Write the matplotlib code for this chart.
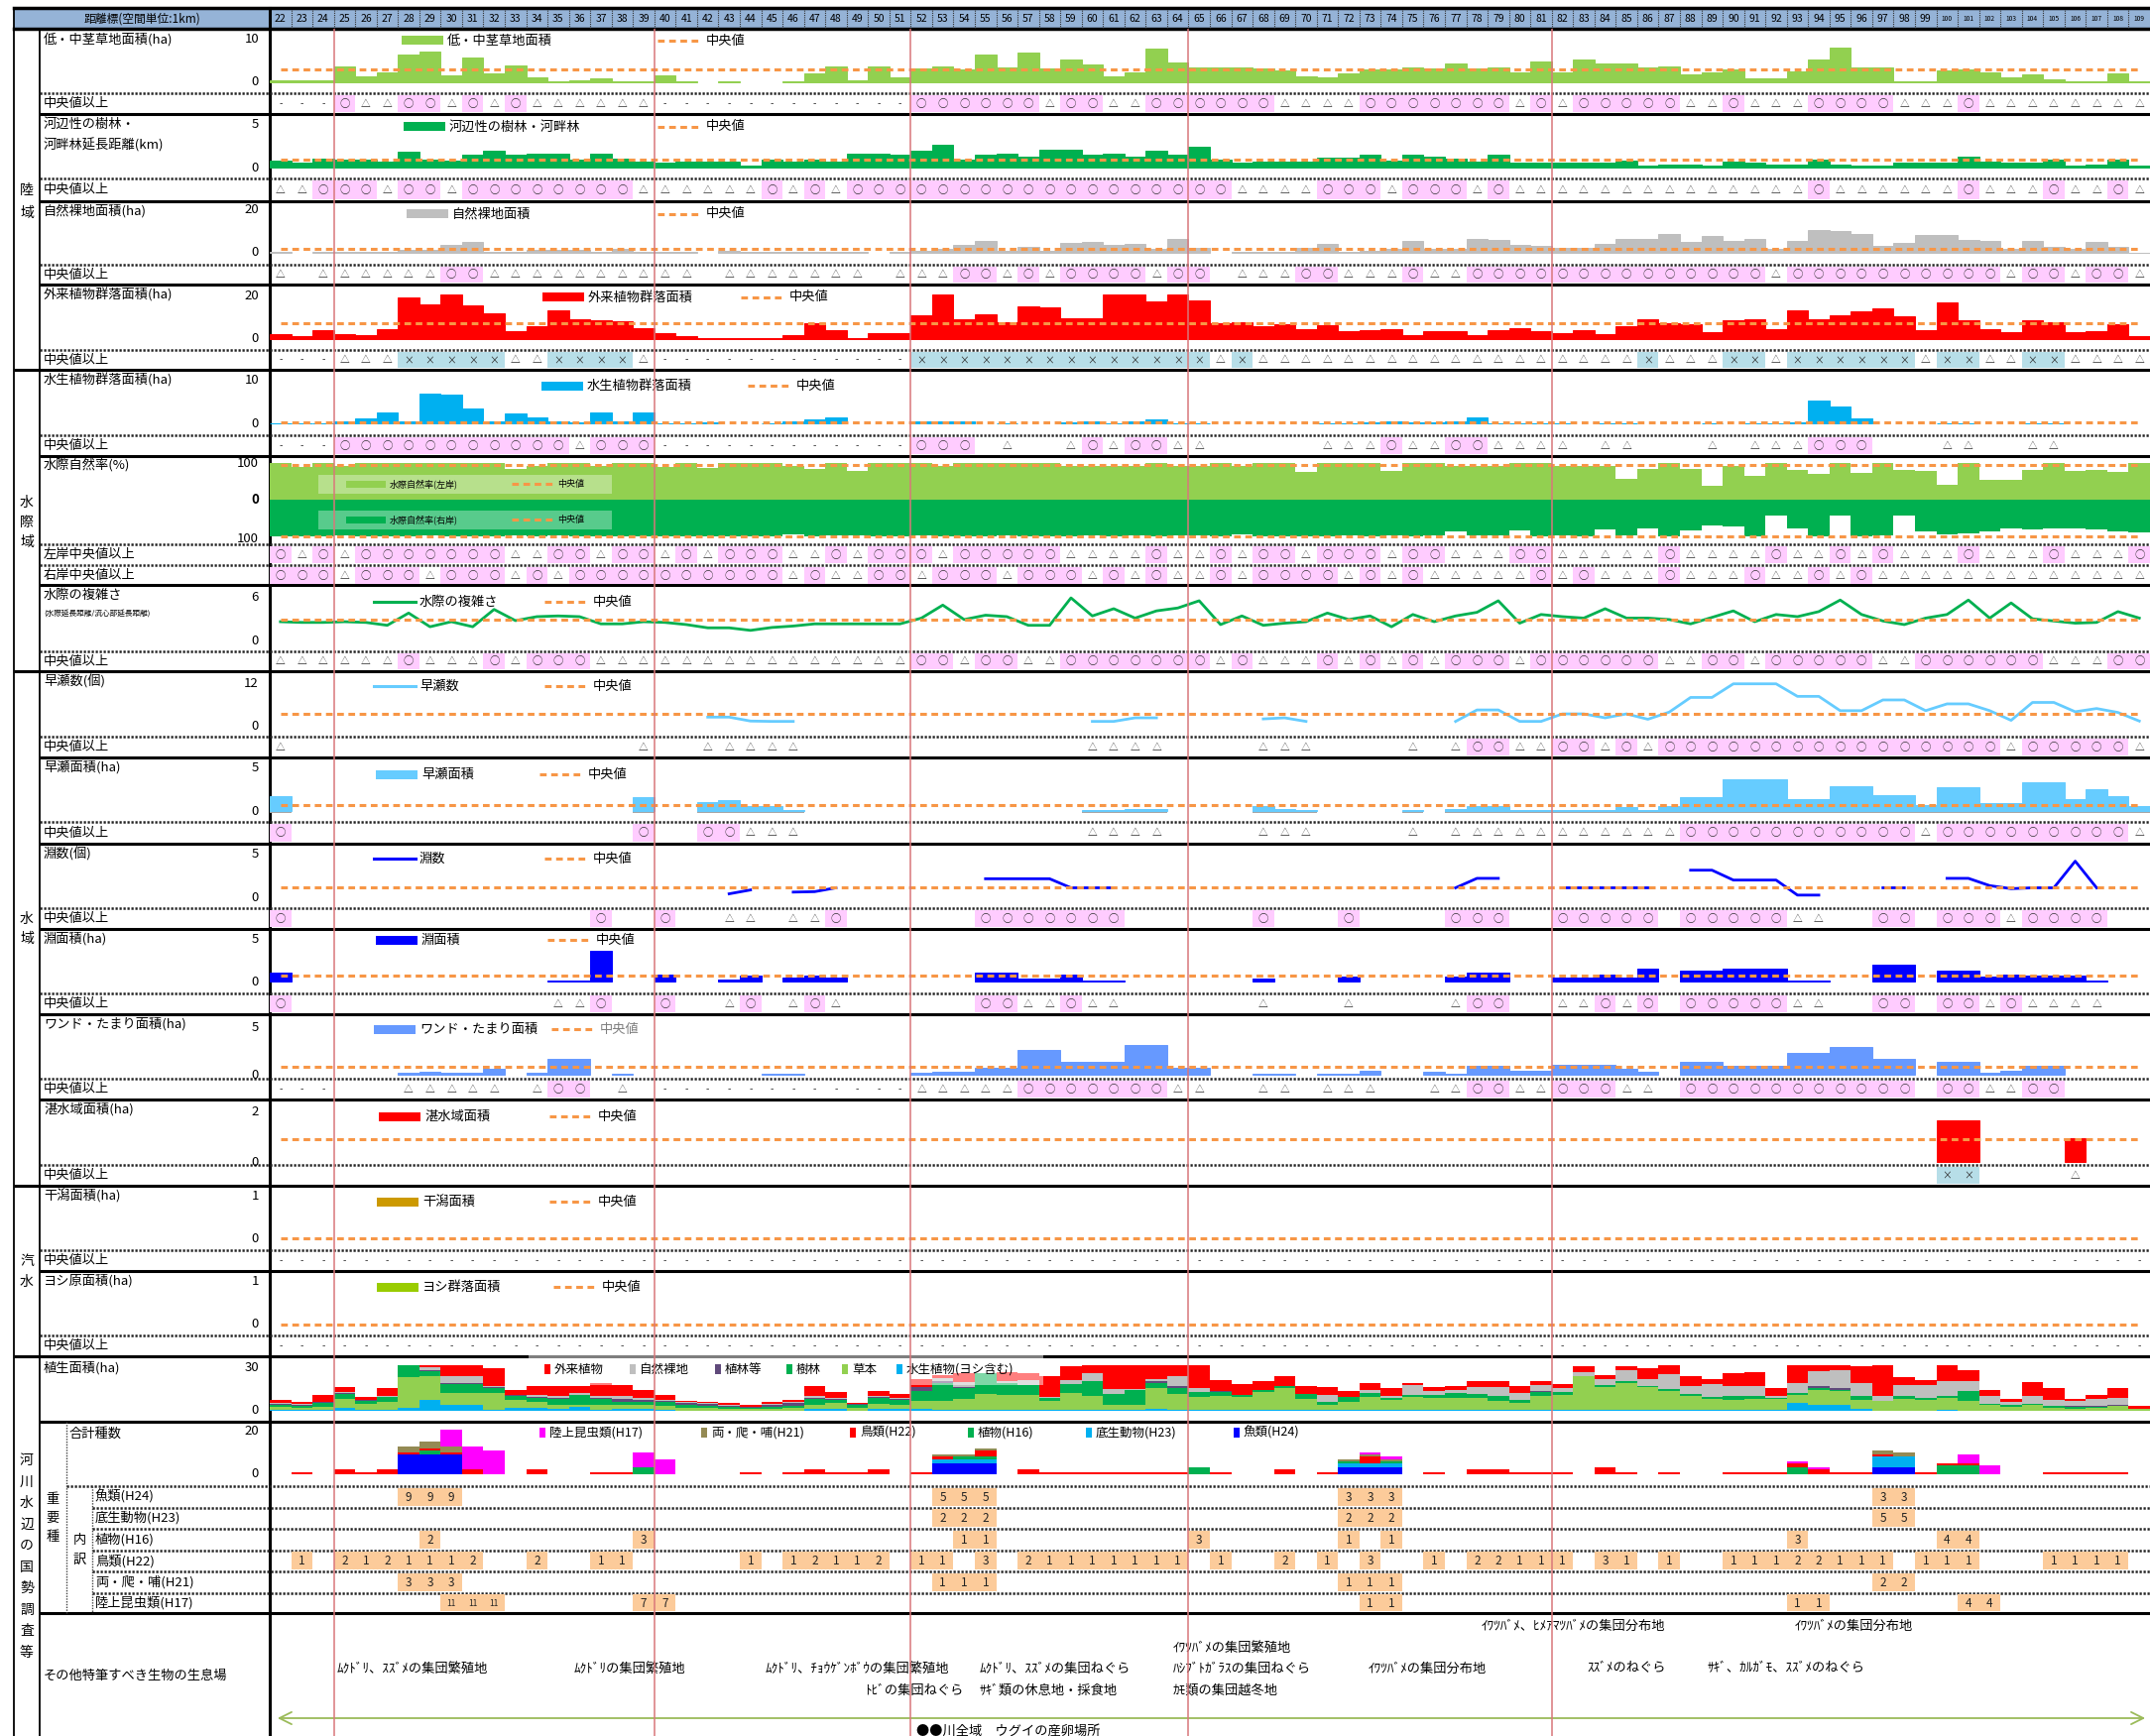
import numpy as np
import matplotlib
matplotlib.use("Agg")
import matplotlib.pyplot as plt
from matplotlib.patches import Rectangle

plt.rcParams['font.family'] = ['Noto Sans CJK JP', 'DejaVu Sans']
plt.rcParams['axes.unicode_minus'] = False
nan = np.nan

# ---------------- data ----------------
km = list(range(22, 110))

grass = [0.5, 0.5, 0.3, 3.7, 1.4, 2.3, 6.4, 7.2, 1.5, 5.7,
         2.0, 3.9, 1.1, 0.2, 0.5, 0.8, 0.2, 0.2, 1.6, 0.15,
         nan, 0.15, nan, nan, 0.15, 2.0, 3.7, 0.5, 3.7, 1.2,
         3.1, 3.7, 3.0, 6.4, 3.5, 6.9, 3.2, 5.2, 4.0, 1.4,
         2.3, 7.8, 4.6, 3.4, 3.4, 3.4, 3.1, 2.7, 1.4, 1.2,
         2.0, 3.0, 3.0, 3.4, 3.1, 4.3, 3.1, 3.4, 2.3, 4.8,
         2.3, 5.2, 4.3, 4.3, 3.4, 3.7, 1.7, 2.3, 3.0, 0.8,
         0.8, 2.5, 5.2, 8.1, 3.4, 3.4, 0.15, 0.15, 2.7, 3.0,
         2.3, 1.1, 1.7, 0.6, 0.2, 0.2, 2.0, 0.2]
riparian = [0.85, 0.6, 1.1, 0.9, 1.0, 0.7, 1.85, 0.9, 0.85, 1.5,
            2.0, 1.5, 1.7, 1.6, 0.9, 1.6, 1.1, 0.7, 0.6, 0.7,
            0.7, 0.7, 0.3, 1.0, 0.7, 0.9, 0.7, 1.6, 1.6, 1.5,
            2.0, 2.7, 0.9, 1.5, 1.6, 1.3, 2.15, 2.15, 1.5, 1.7,
            1.3, 2.0, 1.5, 2.5, 1.0, 0.6, 0.7, 0.7, 0.7, 1.15,
            1.15, 1.5, 0.8, 1.5, 1.35, 1.1, 0.7, 1.5, 0.6, 0.6,
            0.6, 0.6, 0.6, 0.8, 0.3, 0.4, 0.4, 0.3, 0.7, 0.6,
            0.4, 0.4, 1.0, 0.4, 0.3, 0.3, 0.6, 0.6, 0.6, 1.3,
            0.7, 0.6, 0.6, 1.0, 0.3, 0.4, 1.0, 0.3]
bare = [0.5, nan, 0.5, 0.5, 0.5, 0.5, 1.5, 1.2, 3.5, 4.9,
        0.5, 0.5, 1.2, 1.5, 1.5, 0.5, 1.8, 0.5, 0.5, 0.5,
        nan, 1.0, 0.3, 0.3, 0.3, 0.3, 0.3, 0.3, nan, 0.4,
        1.0, 1.9, 3.5, 5.4, 1.0, 2.6, 1.0, 4.6, 4.9, 3.8,
        4.3, 1.8, 6.6, 2.2, nan, 0.5, 0.5, 0.5, 2.3, 4.3,
        0.5, 1.1, 1.8, 5.4, 1.8, 1.8, 6.6, 5.8, 3.5, 3.1,
        2.3, 2.3, 4.3, 6.6, 6.6, 8.9, 5.1, 7.7, 5.7, 6.6,
        1.8, 5.7, 10.8, 10.3, 8.9, 3.1, 4.6, 8.5, 8.5, 6.2,
        5.4, 1.8, 5.7, 2.6, 1.8, 4.9, 2.8, 0.1]
alien = [2.3, 1.1, 3.8, 2.3, 1.7, 4.5, 19.2, 16.2, 20.5, 15.7,
         12.0, 3.4, 5.7, 13.1, 9.2, 8.5, 8.0, 4.9, 2.8, 1.1,
         0.5, 0.5, 0.5, 0.5, 1.7, 7.4, 3.8, 0.5, 2.8, 2.8,
         10.9, 20.5, 9.2, 11.5, 7.8, 15.1, 14.6, 9.5, 9.7, 20.5,
         20.5, 17.4, 20.5, 17.8, 7.2, 7.6, 5.7, 6.9, 4.5, 6.2,
         3.4, 3.8, 4.5, 1.5, 3.4, 3.4, 1.7, 3.8, 5.1, 3.4,
         2.6, 3.8, 2.3, 5.7, 9.2, 7.2, 6.9, 2.9, 8.5, 9.1,
         4.5, 13.1, 9.2, 10.8, 12.6, 14.3, 10.3, 3.8, 16.8, 8.5,
         4.5, 2.9, 8.5, 7.7, 2.9, 3.4, 6.9, 1.1]
aquatic = [0.1, 0.1, 0.1, 0.5, 1.15, 2.7, 0.5, 7.1, 6.8, 3.5,
           0.6, 2.3, 1.5, 0.6, 0.3, 2.7, 0.45, 2.7, 0.1, 0.1,
           0.4, nan, nan, 0.1, 0.5, 0.9, 1.4, nan, nan, nan,
           0.6, 0.6, 0.6, nan, 0.05, nan, nan, 0.3, 0.6, 0.05,
           0.55, 0.9, 0.15, 0.15, nan, nan, nan, nan, nan, 0.1,
           0.1, 0.3, 0.6, 0.2, 0.2, 0.6, 1.5, 0.1, 0.1, 0.1,
           0.1, nan, 0.1, 0.1, nan, nan, nan, 0.1, nan, 0.1,
           0.1, 0.3, 5.3, 3.9, 1.3, nan, nan, nan, 0.1, 0.1,
           nan, nan, 0.1, 0.1, nan, nan, nan, nan]
shore_left = [100, 90, 100, 93, 100, 100, 100, 100, 100, 100,
              100, 84, 93, 100, 100, 93, 100, 100, 91, 100,
              86, 100, 100, 100, 93, 84, 100, 79, 100, 100,
              100, 93, 100, 100, 100, 100, 100, 93, 93, 93,
              93, 100, 93, 93, 100, 93, 100, 100, 76, 100,
              100, 100, 78, 100, 100, 93, 93, 93, 100, 100,
              93, 93, 93, 58, 85, 100, 85, 38, 93, 65,
              100, 83, 72, 100, 74, 100, 83, 78, 41, 100,
              54, 56, 81, 100, 78, 83, 76, 100]
shore_right = [100, 100, 100, 97, 100, 100, 100, 97, 100, 100,
               100, 97, 100, 97, 100, 100, 100, 100, 100, 100,
               100, 100, 100, 100, 95, 100, 97, 97, 100, 100,
               97, 100, 100, 100, 97, 100, 100, 100, 97, 100,
               97, 100, 97, 97, 100, 93, 100, 100, 100, 100,
               97, 100, 97, 100, 97, 86, 97, 97, 84, 100,
               97, 100, 79, 97, 77, 100, 84, 70, 73, 100,
               43, 77, 100, 43, 100, 97, 43, 86, 95, 91,
               86, 77, 79, 77, 77, 81, 86, 88]
complexity = [2.6, 2.5, 2.5, 2.6, 2.5, 2.1, 3.8, 1.9, 2.6, 1.9,
              4.3, 2.75, 3.3, 3.4, 3.3, 2.3, 2.3, 2.6, 2.5, 2.2,
              1.75, 1.75, 1.4, 1.8, 2.0, 2.3, 2.3, 2.3, 2.3, 2.3,
              3.1, 4.9, 2.9, 3.5, 3.3, 2.1, 2.1, 5.9, 3.4, 4.4,
              3.1, 4.1, 4.5, 5.5, 2.2, 3.4, 2.1, 2.4, 2.6, 3.8,
              2.9, 3.4, 1.9, 3.6, 2.6, 3.4, 3.9, 5.5, 2.4, 3.6,
              3.3, 3.1, 4.4, 3.1, 3.1, 2.9, 2.3, 3.2, 4.1, 2.6,
              3.6, 3.3, 4.0, 5.6, 3.6, 2.7, 2.2, 3.1, 3.6, 5.6,
              3.1, 5.2, 3.0, 2.7, 2.4, 2.5, 4.0, 3.1]
rapids_n = [2.0, nan, nan, nan, nan, nan, nan, nan, nan, nan,
            nan, nan, nan, nan, nan, nan, nan, 2.0, nan, nan,
            2.6, 2.6, 1.5, 1.4, 1.4, nan, nan, nan, nan, nan,
            nan, nan, nan, nan, nan, nan, nan, nan, 1.4, 1.4,
            2.4, 2.4, nan, nan, nan, nan, 2.1, 2.4, 1.4, nan,
            nan, nan, nan, 2.0, nan, 1.4, 4.6, 4.6, 1.4, 1.4,
            3.5, 3.5, 2.4, 3.5, 2.0, 4.0, 8.1, 8.1, 11.9, 11.9,
            11.9, 8.4, 8.4, 4.4, 4.4, 7.4, 7.4, 4.4, 6.3, 6.3,
            4.4, 1.7, 6.7, 6.7, 4.1, 5.0, 3.9, 1.5]
rapids_a = [1.8, nan, nan, nan, nan, nan, nan, nan, nan, nan,
            nan, nan, nan, nan, nan, nan, nan, 1.65, nan, nan,
            1.1, 1.35, 0.65, 0.65, 0.2, nan, nan, nan, nan, nan,
            nan, nan, nan, nan, nan, nan, nan, nan, 0.15, 0.15,
            0.3, 0.3, nan, nan, nan, nan, 0.6, 0.3, 0.15, nan,
            nan, nan, nan, 0.15, nan, 0.3, 0.6, 0.6, 0.2, 0.2,
            0.2, 0.2, 0.2, 0.5, 0.2, 0.65, 1.6, 1.6, 3.7, 3.7,
            3.7, 1.45, 1.45, 2.9, 2.9, 1.9, 1.9, 0.7, 2.8, 2.8,
            1.0, 1.0, 3.4, 3.4, 1.45, 2.6, 1.75, 0.6]
pools_n = [1.5, nan, nan, nan, nan, nan, nan, nan, nan, nan,
           nan, nan, nan, nan, nan, 1.5, nan, nan, 1.5, nan,
           nan, 0.4, 0.85, nan, 0.6, 0.65, 1.1, nan, nan, nan,
           nan, nan, nan, 2.15, 2.15, 2.15, 2.15, 1.1, 1.1, 1.1,
           nan, nan, nan, nan, nan, nan, 1.5, nan, nan, nan,
           1.5, nan, nan, nan, nan, 1.1, 2.2, 2.2, nan, nan,
           1.1, 1.1, 1.1, 1.1, 1.1, nan, 3.15, 3.15, 2.0, 2.0,
           2.0, 0.25, 0.25, nan, nan, 1.1, 1.1, nan, 2.2, 2.2,
           1.35, 1.0, 1.1, 1.1, 4.2, 1.1, nan, nan]
pools_a = [1.0, nan, nan, nan, nan, nan, nan, nan, nan, nan,
           nan, nan, nan, 0.1, 0.1, 3.6, nan, nan, 0.8, nan,
           nan, 0.2, 0.75, nan, 0.45, 0.75, 0.5, nan, nan, nan,
           nan, nan, nan, 1.1, 1.1, 0.4, 0.4, 0.8, 0.1, 0.1,
           nan, nan, nan, nan, nan, nan, 0.3, nan, nan, nan,
           0.6, nan, nan, nan, nan, 0.6, 1.1, 1.1, nan, nan,
           0.5, 0.5, 0.8, 0.5, 1.55, nan, 1.25, 1.25, 1.55, 1.55,
           1.55, 0.1, 0.1, nan, nan, 2.0, 2.0, nan, 1.25, 1.25,
           0.6, 0.8, 0.65, 0.65, 0.65, 0.1, nan, nan]
wando = [nan, nan, nan, nan, nan, nan, 0.2, 0.35, 0.2, 0.2,
         0.65, nan, 0.2, 1.7, 1.7, nan, 0.1, nan, nan, nan,
         nan, nan, nan, 0.1, 0.1, nan, nan, nan, nan, nan,
         0.25, 0.4, 0.4, 0.75, 0.75, 2.65, 2.65, 1.4, 1.4, 1.4,
         3.2, 3.2, 0.8, 0.8, nan, nan, 0.15, 0.15, nan, 0.15,
         0.15, 0.5, nan, nan, 0.35, 0.15, 1.0, 1.0, 0.5, 0.5,
         1.1, 1.1, 1.1, 0.65, 0.35, nan, 1.4, 1.4, 1.0, 1.0,
         1.0, 2.35, 2.35, 2.95, 2.95, 1.7, 1.7, nan, 1.4, 1.4,
         0.25, 0.5, 1.0, 1.0, nan, nan, nan, nan]
flooded = [nan] * 78 + [1.68, 1.68, nan, nan, nan, nan, 0.95, nan, nan, nan]
tidal = [nan] * 88
reed = [nan] * 88

medians = {'grass': 2.85, 'riparian': 0.9, 'bare': 2.0, 'alien': 7.4, 'aquatic': 0.4,
           'shore_left': 95, 'shore_right': 99, 'complexity': 2.95, 'rapids_n': 3.4,
           'rapids_a': 0.75, 'pools_n': 1.1, 'pools_a': 0.7, 'wando': 0.9,
           'flooded': 0.93, 'tidal': 0.0, 'reed': 0.0}

# vegetation area stack (bottom -> top)
veg_aquatic = [0.3, 0.3, 0.5, 1.8, 0.4, 0.7, 1.8, 7.6, 4.2, 3.7,
               0.2, 1.8, 1.8, 0.9, 2.3, 0.5, 0.9, 1.4, 0.5, 0,
               0, 0, 0, 0, 0, 0.9, 0.9, 0, 0.9, 0.9,
               0.9, 0.5, 0.5, 0.5, 0.5, 0.5, 0.5, 0.5, 0.3, 0.2,
               0.2, 0.9, 0.2, 0.5, 0.2, 0.2, 0.2, 0.2, 0.2, 0.2,
               0.5, 0.3, 0.3, 0.2, 0.2, 0.2, 0.5, 0.2, 0.2, 0.2,
               0.2, 0.2, 0.2, 0.2, 0.2, 0.2, 0.2, 0.2, 0.2, 0.2,
               0.2, 5.3, 4.2, 3.7, 1.4, 0, 0, 0, 0.3, 0,
               0, 0, 0, 0, 0, 0, 0, 0]
veg_herb = [2.0, 1.6, 2.3, 6.5, 4.2, 5.3, 21.5, 16.2, 8.1, 8.5,
            11.8, 5.8, 4.2, 3.2, 1.8, 3.2, 2.8, 2.3, 2.8, 1.8,
            1.8, 1.4, 0.9, 1.4, 1.8, 3.2, 4.2, 1.8, 3.7, 3.2,
            5.8, 6.2, 7.4, 10.9, 10.2, 10.2, 6.2, 12.0, 9.7, 3.9,
            3.9, 15.0, 11.5, 9.2, 9.7, 9.0, 12.7, 15.5, 8.0, 3.5,
            5.8, 9.5, 7.2, 9.2, 8.5, 8.5, 8.1, 6.7, 5.1, 9.7,
            10.9, 23.6, 16.3, 18.7, 16.0, 13.4, 9.9, 7.6, 6.9, 7.6,
            7.6, 5.8, 10.4, 9.7, 6.2, 6.5, 8.3, 7.6, 8.3, 6.9,
            4.2, 2.3, 3.7, 1.8, 1.4, 1.8, 3.0, 1.2]
veg_forest = [1.5, 1.6, 2.3, 3.2, 1.8, 3.2, 8.1, 3.5, 6.5, 6.2,
              3.7, 2.5, 3.0, 3.7, 6.5, 4.2, 2.3, 2.3, 2.8, 2.3,
              1.8, 1.4, 0.9, 1.4, 1.8, 3.7, 2.3, 2.3, 4.2, 3.2,
              6.9, 12.2, 7.6, 15.0, 8.3, 7.2, 1.8, 5.8, 10.4, 7.4,
              10.4, 3.0, 3.9, 3.0, 2.8, 1.8, 1.6, 1.2, 3.5, 2.1,
              3.2, 2.8, 1.2, 1.6, 2.3, 3.5, 3.0, 3.0, 2.3, 3.0,
              1.8, 0.5, 1.2, 1.6, 1.0, 1.2, 1.2, 1.6, 3.0, 2.3,
              1.2, 1.2, 1.2, 1.2, 2.3, 0.5, 1.6, 1.2, 1.6, 6.9,
              0.5, 1.8, 0.9, 1.2, 0.9, 0.9, 0.5, 0]
veg_plant = [0.8, 0.6, 0.8, 0.5, 0.7, 0.3, 0, 0.7, 0.3, 0.7,
             0.5, 0.5, 0.7, 0.9, 0.5, 0.9, 2.1, 1.6, 0.9, 0.9,
             0.9, 0.7, 0.5, 0.9, 1.6, 0.9, 0.7, 0.3, 0.7, 0.9,
             2.8, 1.6, 1.2, 0, 0.5, 0, 0.5, 0, 0, 0,
             0, 1.6, 1.8, 0.5, 1.2, 0, 0, 0, 0, 0,
             0, 0, 0, 0, 0, 0, 0, 0, 0, 0.9,
             0, 0, 0, 0, 0, 0, 0, 0, 0, 0,
             0, 0, 1.2, 1.2, 0, 0, 0, 0, 0, 0,
             0, 0, 0, 0.5, 0.7, 0.5, 0.5, 0]
veg_bare = [0.5, 0.3, 0.3, 0.9, 0.5, 0.7, 0, 2.1, 4.6, 5.1,
            0.7, 0.5, 1.4, 1.2, 1.2, 1.2, 1.8, 1.2, 0.7, 0.9,
            0.7, 0.7, 0.5, 0.9, 0.7, 1.2, 0.7, 0.3, 0.9, 0.5,
            0, 1.8, 3.5, 0, 1.2, 3.2, 0.5, 2.8, 5.8, 3.7,
            0.5, 1.2, 6.7, 2.8, 0, 0, 0, 0, 0, 5.3,
            0, 1.8, 1.2, 6.5, 2.3, 2.3, 5.1, 6.2, 4.6, 3.7,
            2.8, 2.3, 4.2, 7.6, 4.5, 10.4, 5.8, 8.8, 6.9, 6.9,
            1.2, 6.9, 10.4, 12.7, 9.2, 3.0, 8.1, 9.2, 10.4, 6.5,
            5.3, 1.8, 5.3, 3.9, 3.5, 4.6, 4.6, 0]
veg_alien = [2.5, 1.8, 5.0, 3.2, 1.6, 5.3, 0, 1.4, 8.1, 7.2,
             12.7, 3.5, 5.8, 6.9, 4.6, 9.2, 7.6, 5.8, 3.5, 0.9,
             0.7, 0.9, 0.9, 1.4, 1.6, 6.9, 3.9, 0.5, 3.5, 2.8,
             5.3, 2.3, 6.2, 0, 5.8, 5.3, 14.5, 9.9, 5.8, 16.6,
             17.3, 10.4, 7.6, 15.7, 7.6, 7.4, 5.8, 7.4, 5.5, 5.1,
             4.2, 4.6, 5.8, 1.6, 2.8, 2.8, 3.9, 4.6, 5.1, 3.2,
             2.8, 4.2, 2.8, 3.0, 8.0, 6.5, 6.9, 3.5, 9.2, 9.9,
             5.8, 12.2, 4.2, 3.0, 12.2, 21.5, 5.3, 3.5, 11.1, 8.1,
             4.6, 2.3, 9.9, 8.3, 1.8, 3.0, 6.9, 1.8]

# important species by survey (km -> count)
sp_fish = {28: 9, 29: 9, 30: 9, 53: 5, 54: 5, 55: 5, 72: 3, 73: 3, 74: 3, 97: 3, 98: 3}
sp_benthos = {53: 2, 54: 2, 55: 2, 72: 2, 73: 2, 74: 2, 97: 5, 98: 5}
sp_plants = {29: 2, 39: 3, 54: 1, 55: 1, 65: 3, 72: 1, 74: 1, 93: 3, 100: 4, 101: 4}
sp_birds = {23: 1, 25: 2, 26: 1, 27: 2, 28: 1, 29: 1, 30: 1, 31: 2, 34: 2, 37: 1, 38: 1,
            44: 1, 46: 1, 47: 2, 48: 1, 49: 1, 50: 2, 52: 1, 53: 1, 55: 3, 57: 2, 58: 1,
            59: 1, 60: 1, 61: 1, 62: 1, 63: 1, 64: 1, 66: 1, 69: 2, 71: 1, 73: 3, 76: 1,
            78: 2, 79: 2, 80: 1, 81: 1, 82: 1, 84: 3, 85: 1, 87: 1, 90: 1, 91: 1, 92: 1,
            93: 2, 94: 2, 95: 1, 96: 1, 97: 1, 99: 1, 100: 1, 101: 1, 105: 1, 106: 1,
            107: 1, 108: 1}
sp_amph = {28: 3, 29: 3, 30: 3, 53: 1, 54: 1, 55: 1, 72: 1, 73: 1, 74: 1, 97: 2, 98: 2}
sp_insect = {30: 11, 31: 11, 32: 11, 39: 7, 40: 7, 73: 1, 74: 1, 93: 1, 94: 1, 101: 4, 102: 4}

# "above median" flags: o=○, t=△, x=×, -=-, blank=no data
m_grass = ('---' + 'ottootototttttt' + '-' * 12 + 'oooooot' + 'oottoo' + 'oooo' + 'tttt' +
           'ooooooo' + 'tot' + 'ooooo' + 'tt' + 'o' + 'ttt' + 'oooo' + 'ttt' + 'o' + 't' * 8)
m_riparian = ('tt' + 'ooo' + 't' + 'oo' + 't' + 'o' * 8 + 't' * 6 + 'o' + 't' + 'o' + 't' + 'o' * 18 +
              'tttt' + 'ooo' + 't' + 'ooo' + 't' + 'o' + 't' * 14 + 'o' + 't' * 6 + 'o' + 'ttt' +
              'o' + 'tt' + 'o' + 't')
m_bare = ('t' + ' ' + 't' * 6 + 'oo' + 't' * 10 + ' ' + 't' * 7 + ' ' + 'ttt' + 'oo' + 't' + 'o' +
          't' + 'oooo' + 't' + 'oo' + ' ' + 'ttt' + 'oo' + 'ttt' + 'o' + 'tt' + 'o' * 14 + 't' +
          'o' * 10 + 't' + 'oo' + 't' + 'oo' + 't')
m_alien = ('---' + 'ttt' + 'xxxxx' + 'tt' + 'xxxx' + 't' + '-' * 12 + 'x' * 14 + 't' + 'x' +
           't' * 18 + 'x' + 'ttt' + 'xx' + 't' + 'x' * 6 + 't' + 'xx' + 'tt' + 'xx' + 'tttt')
m_aquatic = ('---' + 'o' * 11 + 't' + 'ooo' + '-' * 12 + 'ooo' + ' ' + 't' + '  ' + 't' + 'o' +
             't' + 'oo' + 'tt' + ' ' * 5 + 'ttt' + 'o' + 'tt' + 'oo' + 'tttt' + ' ' + 'tt' +
             '   ' + 't' + ' ' + 'ttt' + 'ooo' + '   ' + 'tt' + '  ' + 'tt' + '    ')
m_left = ('otot' + 'o' * 7 + 'tt' + 'oo' + 't' + 'oo' + 't' + 'o' + 't' + 'ooo' + 'tt' + 'o' + 't' +
          'ooo' + 't' + 'o' * 5 + 't' + 'ttt' + 'o' + 'tt' + 'o' + 't' + 'oo' + 't' + 'ooo' + 't' +
          'oo' + 'ttt' + 'oo' + 't' * 5 + 'o' + 'tttt' + 'o' + 'tt' + 'o' + 't' + 'o' + 'ttt' +
          'o' + 'ttt' + 'o' + 'ttt' + 'o')
m_right = ('ooo' + 't' + 'ooo' + 't' + 'ooo' + 't' + 'o' + 't' + 'o' * 10 + 't' + 'o' + 'tt' +
           'oo' + 't' + 'ooo' + 't' + 'ooo' + 't' + 'o' + 't' + 'o' + 'tt' + 'o' + 't' + 'oooo' +
           't' + 'o' + 't' + 'o' + 't' * 5 + 'o' + 't' + 'o' + 'ttt' + 'o' + 'ttt' + 'o' + 'tt' +
           'o' + 't' + 'o' + 't' * 13)
m_complex = ('t' * 6 + 'o' + 'ttt' + 'o' + 't' + 'ooo' + 'ttt' + 't' * 12 + 'oo' + 't' + 'oo' +
             'tt' + 'o' + 'o' * 6 + 't' + 'o' + 'ttt' + 'o' + 't' + 'o' + 't' + 'o' + 't' + 'ooo' +
             't' + 'o' * 6 + 'tt' + 'oo' + 't' + 'o' * 5 + 'tt' + 'o' * 6 + 'ttt' + 'oo')
m_rapids_n = ('t' + ' ' * 16 + 't' + '  ' + 'ttttt' + ' ' * 13 + 'tttt' + ' ' * 4 + 'ttt' +
              ' ' * 4 + 't' + ' ' + 't' + 'oo' + 'tt' + 'oo' + 't' + 'o' + 't' + 'o' +
              'o' * 15 + 't' + 'o' * 5 + 't')
m_rapids_a = ('o' + ' ' * 16 + 'o' + '  ' + 'oo' + 'ttt' + ' ' * 13 + 'tttt' + ' ' * 4 + 'ttt' +
              ' ' * 4 + 't' + ' ' + 't' * 11 + 'o' * 11 + 't' + 'o' * 9 + 't')
m_pools_n = ('o' + ' ' * 14 + 'o' + '  ' + 'o' + '  ' + 'tt' + ' ' + 'tt' + 'o' + ' ' * 6 +
             'o' * 7 + ' ' * 6 + 'o' + '   ' + 'o' + ' ' * 4 + 'ooo' + '  ' + 'ooooo' + ' ' +
             'ooooo' + 'tt' + '  ' + 'oo' + ' ' + 'ooo' + 't' + 'oooo' + '  ')
m_pools_a = ('o' + ' ' * 12 + 'tt' + 'o' + '  ' + 'o' + '  ' + 't' + 'o' + ' ' + 't' + 'o' + 't' +
             ' ' * 6 + 'oo' + 'tt' + 'o' + 'tt' + ' ' * 6 + 't' + '   ' + 't' + ' ' * 4 + 't' +
             'oo' + '  ' + 'tt' + 'o' + 't' + 'o' + ' ' + 'o' * 5 + 'tt' + '  ' + 'oo' + ' ' +
             'oo' + 't' + 'o' + 'tttt' + '  ')
m_wando = ('---' + '   ' + 'ttttt' + ' ' + 't' + 'oo' + ' ' + 't' + ' ' + '-' * 12 + 'ttttt' +
           'o' * 7 + 'tt' + '  ' + 'tt' + ' ' + 'ttt' + '  ' + 'tt' + 'oo' + 'tt' + 'ooo' + 'tt' +
           ' ' + 'o' * 11 + ' ' + 'oo' + 'tt' + 'oo' + '    ')
m_flooded = ' ' * 78 + 'xx' + '    ' + 't' + '   '
m_tidal = '-' * 88
m_reed = '-' * 88

habitat_notes = [
    ("ﾑｸﾄﾞﾘ、ｽｽﾞﾒの集団繁殖地", 340, 1683),
    ("ﾑｸﾄﾞﾘの集団繁殖地", 579, 1683),
    ("ﾑｸﾄﾞﾘ、ﾁｮｳｹﾞﾝﾎﾞｳの集団繁殖地", 772, 1683),
    ("ﾑｸﾄﾞﾘ、ｽｽﾞﾒの集団ねぐら", 988, 1683),
    ("ﾄﾋﾞの集団ねぐら", 872, 1705),
    ("ｻｷﾞ類の休息地・採食地", 988, 1705),
    ("ｲﾜﾂﾊﾞﾒの集団繁殖地", 1183, 1662),
    ("ﾊｼﾌﾞﾄｶﾞﾗｽの集団ねぐら", 1183, 1683),
    ("ｶﾓ類の集団越冬地", 1183, 1705),
    ("ｲﾜﾂﾊﾞﾒの集団分布地", 1380, 1683),
    ("ｲﾜﾂﾊﾞﾒ、ﾋﾒｱﾏﾂﾊﾞﾒの集団分布地", 1494, 1640),
    ("ｲﾜﾂﾊﾞﾒの集団分布地", 1810, 1640),
    ("ｽｽﾞﾒのねぐら", 1600, 1683),
    ("ｻｷﾞ、ｶﾙｶﾞﾓ、ｽｽﾞﾒのねぐら", 1722, 1683),
]

for arr in [grass, riparian, bare, alien, aquatic, shore_left, shore_right, complexity,
            rapids_n, rapids_a, pools_n, pools_a, wando, flooded, veg_aquatic, veg_herb,
            veg_forest, veg_plant, veg_bare, veg_alien]:
    assert len(arr) == 88, len(arr)
for s in [m_grass, m_riparian, m_bare, m_alien, m_aquatic, m_left, m_right, m_complex,
          m_rapids_n, m_rapids_a, m_pools_n, m_pools_a, m_wando, m_flooded]:
    assert len(s) == 88, len(s)

# ---------------- layout ----------------
W, H = 2168, 1751
fig = plt.figure(figsize=(W / 100, H / 100), dpi=100)
bg = fig.add_axes([0, 0, 1, 1])
bg.set_xlim(0, W); bg.set_ylim(H, 0); bg.axis('off')

N = len(km)
xi = np.arange(N)
XL, XR = 272, W
ORANGE = '#F79646'
MED_LS = (0, (2.2, 1.5))
PINK, LBLUE, PEACH = '#FFCCFF', '#B7DEE8', '#FCCB9A'


def frame_ax(ytop, ybot):
    ax = fig.add_axes([XL / W, 1 - ybot / H, (XR - XL) / W, (ybot - ytop) / H])
    ax.set_xlim(-0.5, N - 0.5)
    ax.axis('off')
    return ax


def chart(ytop, ybot, base, sc):
    ax = frame_ax(ytop, ybot)
    ax.set_ylim((base - ybot) / sc, (base - ytop) / sc)
    return ax


def median(ax, m):
    ax.plot(xi, np.full(N, m), color=ORANGE, lw=2.2, ls=MED_LS, zorder=6)


def bars(ax, vals, color):
    v = np.asarray(vals, float)
    m = ~np.isnan(v)
    ax.bar(xi[m], v[m], width=1.0, color=color, edgecolor=color, linewidth=0.7, zorder=2)


SYM = {'o': '○', 't': '△', 'x': '×', '-': '-'}
SYM_FS = {'o': 7.5, 't': 7.0, 'x': 7.0, '-': 7.0}
CELL = {'o': PINK, 'x': LBLUE}


def marks(ytop, ybot, codes):
    ax = frame_ax(ytop, ybot)
    ax.set_ylim(0, 1)
    for i, c in enumerate(codes):
        if c in CELL:
            ax.bar(i, 0.9, bottom=0.05, width=1.0, color=CELL[c], linewidth=0)
        if c in SYM:
            ax.text(i, 0.48, SYM[c], ha='center', va='center', fontsize=SYM_FS[c],
                    color='#303030')


def label(x, y, s, fs=9.5, **kw):
    bg.text(x, y, s, va='center', fontsize=fs, **kw)


def hline(y, x0, kind='thick'):
    if kind == 'thick':
        bg.plot([x0, W], [y, y], color='black', lw=2.2, solid_capstyle='butt')
    else:
        bg.plot([x0, W], [y, y], color='#222222', lw=1.8, ls=(0, (0.9, 0.7)))


# header
bg.add_patch(Rectangle((14, 9), W - 14, 20, color='#95B3D7', lw=0))
bg.plot([14, W], [8, 8], color='black', lw=2.5)
bg.plot([14, W], [29.5, 29.5], color='black', lw=2.5)
bg.text(143, 19, '距離標(空間単位:1km)', ha='center', va='center', fontsize=8.5)
hx = frame_ax(9, 29)
hx.set_ylim(0, 1)
for i, k in enumerate(km):
    hx.text(i, 0.48, str(k), ha='center', va='center', fontsize=7.5 if k < 100 else 4.8)
    if i < N - 1:
        hx.axvline(i + 0.5, color='#333333', lw=0.8, ls=(0, (1, 1)))

# frame verticals
bg.plot([14, 14], [8, H], color='black', lw=1.3)
bg.plot([40, 40], [29, H], color='black', lw=1.3)
bg.plot([272, 272], [8, H], color='black', lw=2.2)

# horizontal separators
for y in [373, 677, 1196, 1368]:
    hline(y, 14)
for y in [115, 203, 287, 460, 590.5, 764, 851, 936.5, 1023, 1109, 1282, 1434, 1627]:
    hline(y, 40)
for y in [94, 180, 267, 353, 439, 549, 570, 657, 743, 829, 916, 1002, 1088, 1175, 1261, 1347]:
    hline(y, 40, 'dot')
hline(1499, 67, 'dot')
for y in [1520.5, 1542, 1563.5, 1585, 1606.5]:
    hline(y, 93, 'dot')
bg.plot([67, 67], [1434, 1627], color='#444444', lw=1.0, ls=(0, (1, 1)))
bg.plot([93, 93], [1499, 1627], color='#444444', lw=1.0, ls=(0, (1, 1)))

# section labels (vertical)
for chars, y0, step in [('陸域', 192, 23), ('水際域', 507, 20), ('水域', 927, 20),
                        ('汽水', 1272, 21), ('河川水辺の国勢調査等', 1473, 21.5)]:
    for j, ch in enumerate(chars):
        label(27, y0 + j * step, ch, fs=10, ha='center')
for j, ch in enumerate('重要種'):
    label(53, 1512 + j * 19, ch, fs=9.5, ha='center')
for j, ch in enumerate('内訳'):
    label(80, 1553 + j * 20, ch, fs=9.5, ha='center')

# ---------------- standard panels ----------------
panels = [
    ('低・中茎草地面積(ha)', grass, 'grass', m_grass, '#92D050', 30, 94, 115, 82.7, 4.333, 10),
    ('河辺性の樹林・', riparian, 'riparian', m_riparian, '#00B050', 115, 180, 203, 169.3, 8.667, 5),
    ('自然裸地面積(ha)', bare, 'bare', m_bare, '#BFBFBF', 203, 267, 287, 255, 2.167, 20),
    ('外来植物群落面積(ha)', alien, 'alien', m_alien, '#FF0000', 287, 353, 373, 341.7, 2.167, 20),
    ('水生植物群落面積(ha)', aquatic, 'aquatic', m_aquatic, '#00B0F0', 373, 439, 460, 427.3, 4.333, 10),
    ('水際の複雑さ', complexity, 'complexity', m_complex, 'line:#00B050', 590.5, 657, 677, 646, 7.28, 6),
    ('早瀬数(個)', rapids_n, 'rapids_n', m_rapids_n, 'line:#66CCFF', 677, 743, 764, 732.7, 3.611, 12),
    ('早瀬面積(ha)', rapids_a, 'rapids_a', m_rapids_a, '#66CCFF', 764, 829, 851, 818.3, 8.667, 5),
    ('淵数(個)', pools_n, 'pools_n', m_pools_n, 'line:#0000FF', 851, 916, 936.5, 905, 8.667, 5),
    ('淵面積(ha)', pools_a, 'pools_a', m_pools_a, '#0000FF', 936.5, 1002, 1023, 990, 8.6, 5),
    ('ワンド・たまり面積(ha)', wando, 'wando', m_wando, '#6699FF', 1023, 1088, 1109, 1084.3, 9.5, 5),
    ('湛水域面積(ha)', flooded, 'flooded', m_flooded, '#FF0000', 1109, 1175, 1196, 1172.3, 25.2, 2),
    ('干潟面積(ha)', tidal, 'tidal', m_tidal, '#CC9900', 1196, 1261, 1282, 1249, 43.0, 1),
    ('ヨシ原面積(ha)', reed, 'reed', m_reed, '#99CC00', 1282, 1347, 1368, 1335.5, 43.0, 1),
]

for name, vals, key, codes, style, top, dot, bot, base, sc, ymax in panels:
    ax = chart(top + 1, dot - 1, base, sc)
    if style.startswith('line:'):
        ax.plot(xi, np.asarray(vals, float), color=style[5:], lw=2.0, zorder=3)
    else:
        if key == 'rapids_a':
            v = np.asarray(vals, float); m = ~np.isnan(v)
            ax.bar(xi[m], -0.14, width=1.0, color='#A6A6A6', linewidth=0, zorder=1)
        bars(ax, vals, style)
    median(ax, medians[key])
    marks(dot + 1, bot - 1, codes)
    label(44, top + 10, name)
    label(261, base - ymax * sc, str(ymax), ha='right')
    label(261, base, '0', ha='right')
    label(44, (dot + bot) / 2, '中央値以上')

label(44, 146, '河畔林延長距離(km)')
label(44, 619, '(水際延長距離/流心部延長距離)', fs=5.5)

# ---------------- shoreline naturalness (mirrored) ----------------
s_base, s_sc = 504.3, 0.37
ax6 = chart(461, 548, s_base, s_sc)
ax6.bar(xi, shore_left, width=1.0, color='#92D050', linewidth=0)
ax6.bar(xi, -np.asarray(shore_right, float), width=1.0, color='#00B050', linewidth=0)
median(ax6, medians['shore_left'])
median(ax6, -medians['shore_right'])
marks(550, 569, m_left)
marks(571, 589.5, m_right)
label(44, 470, '水際自然率(%)')
label(261, s_base - 100 * s_sc, '100', ha='right')
label(261, s_base, '0', ha='right', fontweight='bold')
label(261, s_base + 100 * s_sc + 2, '100', ha='right')
label(44, 559.5, '左岸中央値以上')
label(44, 580, '右岸中央値以上')

# ---------------- vegetation area stack ----------------
v_base, v_sc = 1422.7, 1.444
ax16 = chart(1376.5, 1433, v_base, v_sc)
bottom = np.zeros(N)
for vals, col in [(veg_aquatic, '#00B0F0'), (veg_herb, '#92D050'), (veg_forest, '#00B050'),
                  (veg_plant, '#604A7B'), (veg_bare, '#BFBFBF'), (veg_alien, '#FF0000')]:
    v = np.asarray(vals, float)
    ax16.bar(xi, v, bottom=bottom, width=1.0, color=col, linewidth=0)
    bottom = bottom + v
label(44, 1380, '植生面積(ha)')
label(261, v_base - 30 * v_sc, '30', ha='right')
label(261, v_base, '0', ha='right')

# ---------------- species totals + table ----------------
t_base, t_sc = 1486.7, 2.167
ax17 = chart(1441.5, 1498, t_base, t_sc)
rows = [('魚類(H24)', sp_fish, '#0000FF'), ('底生動物(H23)', sp_benthos, '#00B0F0'),
        ('植物(H16)', sp_plants, '#00B050'), ('鳥類(H22)', sp_birds, '#FF0000'),
        ('両・爬・哺(H21)', sp_amph, '#948A54'), ('陸上昆虫類(H17)', sp_insect, '#FF00FF')]
bottom = np.zeros(N)
for nm, d, col in rows:
    v = np.array([d.get(k, 0) for k in km], float)
    m = v > 0
    ax17.bar(xi[m], v[m], bottom=bottom[m], width=1.0, color=col, linewidth=0)
    bottom = bottom + v
label(70, 1446, '合計種数')
label(261, t_base - 20 * t_sc, '20', ha='right')
label(261, t_base, '0', ha='right')

row_edges = [1499, 1520.5, 1542, 1563.5, 1585, 1606.5, 1627]
for r, (nm, d, col) in enumerate(rows):
    y0, y1 = row_edges[r], row_edges[r + 1]
    ax = frame_ax(y0 + 1, y1 - 1)
    ax.set_ylim(0, 1)
    for i, k in enumerate(km):
        if d.get(k, 0) > 0:
            ax.bar(i, 0.92, bottom=0.04, width=1.0, color=PEACH, linewidth=0)
            n = d[k]
            ax.text(i, 0.48, str(n), ha='center', va='center',
                    fontsize=8.5 if n < 10 else 6, color='#222222')
    label(96, (y0 + y1) / 2, nm)

# ---------------- other habitats ----------------
label(44, 1690, 'その他特筆すべき生物の生息場')

# ---------------- overlay: legends & notes ----------------
ov = fig.add_axes([0, 0, 1, 1])
ov.set_xlim(0, W); ov.set_ylim(H, 0); ov.axis('off')


def leg_patch(x, y, col, text, w=42, h=9, fs=9.5):
    ov.add_patch(Rectangle((x, y - h / 2), w, h, color=col, lw=0))
    ov.text(x + w + 4, y, text, va='center', fontsize=fs)


def leg_line(x, y, col, text, w=42, fs=9.5):
    ov.plot([x, x + w], [y, y], color=col, lw=2.2)
    ov.text(x + w + 4, y, text, va='center', fontsize=fs)


def leg_med(x, y, w=45, fs=9.5, color='black'):
    ov.plot([x, x + w], [y, y], color=ORANGE, lw=2.2, ls=MED_LS)
    ov.text(x + w + 4, y, '中央値', va='center', fontsize=fs, color=color)


leg_patch(405, 41, '#92D050', '低・中茎草地面積'); leg_med(663, 41)
leg_patch(407, 128, '#00B050', '河辺性の樹林・河畔林'); leg_med(663, 128)
leg_patch(410, 216, '#BFBFBF', '自然裸地面積'); leg_med(663, 216)
leg_patch(547, 300, '#FF0000', '外来植物群落面積'); leg_med(747, 300)
leg_patch(546, 389, '#00B0F0', '水生植物群落面積'); leg_med(754, 389)
for yy, col, txt in [(488.5, '#92D050', '水際自然率(左岸)'), (524, '#00B050', '水際自然率(右岸)')]:
    ov.add_patch(Rectangle((321, yy - 9.5), 296, 19, facecolor='white', alpha=0.35, lw=0))
    leg_patch(349, yy, col, txt, w=40, h=7, fs=6.5)
    leg_med(516, yy, w=42, fs=6.5)
leg_line(377, 607, '#00B050', '水際の複雑さ'); leg_med(549, 607)
leg_line(377, 692, '#66CCFF', '早瀬数'); leg_med(549, 692)
leg_patch(379, 781, '#66CCFF', '早瀬面積'); leg_med(544, 781)
leg_line(377, 866, '#0000FF', '淵数'); leg_med(549, 866)
leg_patch(379, 948, '#0000FF', '淵面積'); leg_med(552, 948)
leg_patch(377, 1038, '#6699FF', 'ワンド・たまり面積'); leg_med(556, 1038, color='#7F7F7F')
leg_patch(382, 1126, '#FF0000', '湛水域面積'); leg_med(554, 1126)
leg_patch(380, 1212, '#CC9900', '干潟面積'); leg_med(554, 1212)
leg_patch(380, 1298, '#99CC00', 'ヨシ群落面積'); leg_med(558, 1298)

ov.add_patch(Rectangle((533, 1365), 519, 32, facecolor='white', alpha=0.5, lw=0))
for x, col, txt in [(549, '#FF0000', '外来植物'), (635, '#BFBFBF', '自然裸地'),
                    (721, '#604A7B', '植林等'), (793, '#00B050', '樹林'),
                    (849, '#92D050', '草本'), (904, '#00B0F0', '水生植物(ヨシ含む)')]:
    leg_patch(x, 1381, col, txt, w=6, h=10, fs=9)
for x, col, txt in [(544, '#FF00FF', '陸上昆虫類(H17)'), (707, '#948A54', '両・爬・哺(H21)'),
                    (857, '#FF0000', '鳥類(H22)'), (976, '#00B050', '植物(H16)'),
                    (1095, '#00B0F0', '底生動物(H23)'), (1244, '#0000FF', '魚類(H24)')]:
    leg_patch(x, 1445, col, txt, w=6, h=10, fs=9)

for txt, x, y in habitat_notes:
    ov.text(x, y, txt, va='center', ha='left', fontsize=9.5)
ov.annotate('', xy=(2166, 1733), xytext=(277, 1733),
            arrowprops=dict(arrowstyle='<->', color='#9BBB59', lw=1.3, mutation_scale=22))
ov.text(924, 1746, '●●川全域　ウグイの産卵場所', va='center', ha='left', fontsize=9.5)

# ---------------- red reference lines ----------------
rl = frame_ax(29.5, H)
rl.set_ylim(0, 1)
for b in [2.5, 17.5, 29.5, 42.5, 59.5]:
    rl.axvline(b, color='#D9777A', lw=1.1)

fig.savefig('out.png', dpi=100)
